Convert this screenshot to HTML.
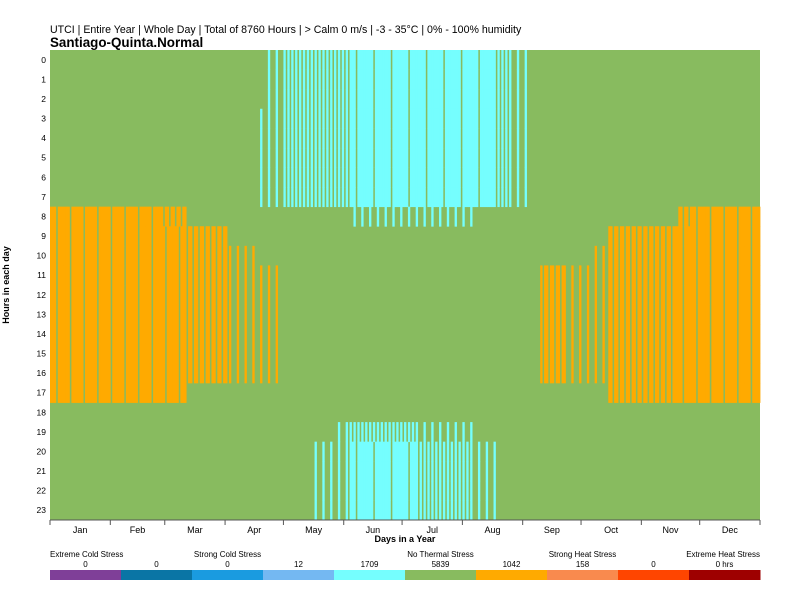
<!DOCTYPE html>
<html><head><meta charset="utf-8"><style>
body{margin:0;background:#fff;font-family:"Liberation Sans",Arial,sans-serif}
svg text{font-family:"Liberation Sans",Arial,sans-serif}
</style></head><body>
<svg id="c" width="800" height="600" viewBox="0 0 800 600">
<text x="50" y="33" font-size="10.6">UTCI | Entire Year | Whole Day | Total of 8760 Hours | &gt; Calm 0 m/s | -3 - 35°C | 0% - 100% humidity</text>
<text x="50" y="47" font-size="13.4" font-weight="bold">Santiago-Quinta.Normal</text>
<g id="cells"></g>
<g id="axes"></g>
<text x="405" y="542" font-size="9" font-weight="bold" text-anchor="middle">Days in a Year</text>
<text transform="translate(9,285) rotate(-90)" font-size="9" font-weight="bold" text-anchor="middle">Hours in each day</text>
<g id="legend"></g>
</svg>
<script>
// weekly hour patterns (hour 0..23): g green, c/d/e cyan (dense/half/sparse), o/p/q orange (dense/half/sparse)
const weekPatterns = [
"ggggggggoooooooooogggggg","ggggggggoooooooooogggggg","ggggggggoooooooooogggggg","ggggggggoooooooooogggggg",
"ggggggggoooooooooogggggg","ggggggggoooooooooogggggg","ggggggggoooooooooogggggg","ggggggggoooooooooogggggg",
"ggggggggpooooooooogggggg","ggggggggpooooooooogggggg",
"gggggggggppppppppggggggg","gggggggggppppppppggggggg","gggggggggppppppppggggggg",
"ggggggggggqqqqqqqggggggg","ggggggggggqqqqqqqggggggg",
"gggeeeeegggqqqqqqggggggg","eeeeeeeegggqqqqqqggggggg",
"ddddddddgggggggggggggggg","ddddddddgggggggggggggggg",
"ddddddddggggggggggggeeee",
"ddddddddggggggggggggeeee","ddddddddgggggggggggeeeee",
"cccccccceggggggggggdcccc","cccccccceggggggggggdcccc","cccccccceggggggggggdcccc","cccccccceggggggggggdcccc","cccccccceggggggggggdcccc",
"cccccccceggggggggggedddd","cccccccceggggggggggedddd","cccccccceggggggggggedddd","cccccccceggggggggggedddd",
"ccccccccggggggggggggeeee","ccccccccggggggggggggeeee",
"ddddddddgggggggggggggggg","eeeeeeeegggggggggggggggg",
"gggggggggggggggggggggggg",
"gggggggggggppppppggggggg","gggggggggggppppppggggggg",
"gggggggggggqqqqqqggggggg","gggggggggggqqqqqqggggggg",
"ggggggggggqqqqqqqggggggg","gggggggggpppppppppgggggg",
"gggggggggpppppppppgggggg","gggggggggpppppppppgggggg","gggggggggpppppppppgggggg",
"gggggggggpppppppppgggggg","ggggggggpooooooooogggggg",
"ggggggggoooooooooogggggg","ggggggggoooooooooogggggg","ggggggggoooooooooogggggg",
"ggggggggoooooooooogggggg","ggggggggoooooooooogggggg","ggggggggoooooooooogggggg"
];
const months = ["Jan","Feb","Mar","Apr","May","Jun","Jul","Aug","Sep","Oct","Nov","Dec"];
const monthDays = [31,28,31,30,31,30,31,31,30,31,30,31];
const hourLabels = ["0","1","2","3","4","5","6","7","8","9","10","11","12","13","14","15","16","17","18","19","20","21","22","23"];
const legendNames = ["Extreme Cold Stress","","Strong Cold Stress","","","No Thermal Stress","","Strong Heat Stress","","Extreme Heat Stress"];
const legendCounts = ["0","0","0","12","1709","5839","1042","158","0","0 hrs"];
const legendColors = ["#7f3f98","#0a75a5","#1a9be0","#74b8f2","#75fefe","#88bb5f","#ffaa00","#f98a4e","#ff4500","#9e0000"];

const NS="http://www.w3.org/2000/svg";
const X0=50,X1=760,Y0=50,Y1=520;
const dw=(X1-X0)/365, hh=(Y1-Y0)/24;
const xDay=d=>X0+d*dw, yHour=h=>Y0+h*hh;
const G="#88bb5f",C="#75fefe",O="#ffaa00";
function colorOf(ch,d){
  if(ch==='c')return d%9!==4?C:G;
  if(ch==='d')return d%2===0?C:G;
  if(ch==='e')return d%4===0?C:G;
  if(ch==='o')return d%7!==3?O:G;
  if(ch==='p')return d%3!==1?O:G;
  if(ch==='q')return d%4===0?O:G;
  return G;
}
const cells=document.getElementById('cells');
const bg=document.createElementNS(NS,'rect');
bg.setAttribute('x',X0);bg.setAttribute('y',Y0);bg.setAttribute('width',X1-X0);bg.setAttribute('height',Y1-Y0);bg.setAttribute('fill',G);


cells.appendChild(bg);
for(let d=0;d<365;d++){
  const pat=weekPatterns[Math.min(Math.floor(d/7),weekPatterns.length-1)];
  for(let h=0;h<24;h++){
    const col=colorOf(pat[h],d);
    if(col===G)continue;
    const r=document.createElementNS(NS,'rect');
    r.setAttribute('x',xDay(d));r.setAttribute('y',yHour(h));
    r.setAttribute('width',dw+0.4);r.setAttribute('height',hh+0.4);r.setAttribute('fill',col);
    
    
    cells.appendChild(r);
  }
}
const axes=document.getElementById('axes');
function add(parent,tag,attrs,text){const e=document.createElementNS(NS,tag);for(const k in attrs)e.setAttribute(k,attrs[k]);if(text!==undefined)e.textContent=text;parent.appendChild(e);return e;}
let xl=add(axes,'line',{x1:X0,y1:Y1,x2:X1,y2:Y1,stroke:'#555','stroke-width':1});


let cum=0;
for(let m=0;m<12;m++){
  const t=add(axes,'line',{x1:xDay(cum),y1:Y1,x2:xDay(cum),y2:Y1+5,stroke:'#555'});
  
  
  const l=add(axes,'text',{x:xDay(cum+monthDays[m]/2),y:Y1+13,'font-size':9,'text-anchor':'middle'},months[m]);
  
  
  cum+=monthDays[m];
}
let te=add(axes,'line',{x1:X1,y1:Y1,x2:X1,y2:Y1+5,stroke:'#555'});


for(let h=0;h<24;h++){
  const l=add(axes,'text',{x:46,y:yHour(h)+hh/2+3,'font-size':8.5,'text-anchor':'end'},hourLabels[h]);
  
  
}
const leg=document.getElementById('legend');
const sw=(X1-X0)/10;
for(let i=0;i<10;i++){
  const r=add(leg,'rect',{x:X0+i*sw,y:570,width:sw+0.5,height:10,fill:legendColors[i]});
  
  
  const cx=X0+i*sw+sw/2;
  if(legendNames[i]){
    const n=add(leg,'text',{x:i===9?X1:(i===0?X0:cx),y:557,'font-size':8,'text-anchor':i===9?'end':(i===0?'start':'middle')},legendNames[i]);
    
    
  }
  const c=add(leg,'text',{x:cx,y:567,'font-size':8,'text-anchor':'middle'},legendCounts[i]);
  
  
}
</script>
</body></html>
